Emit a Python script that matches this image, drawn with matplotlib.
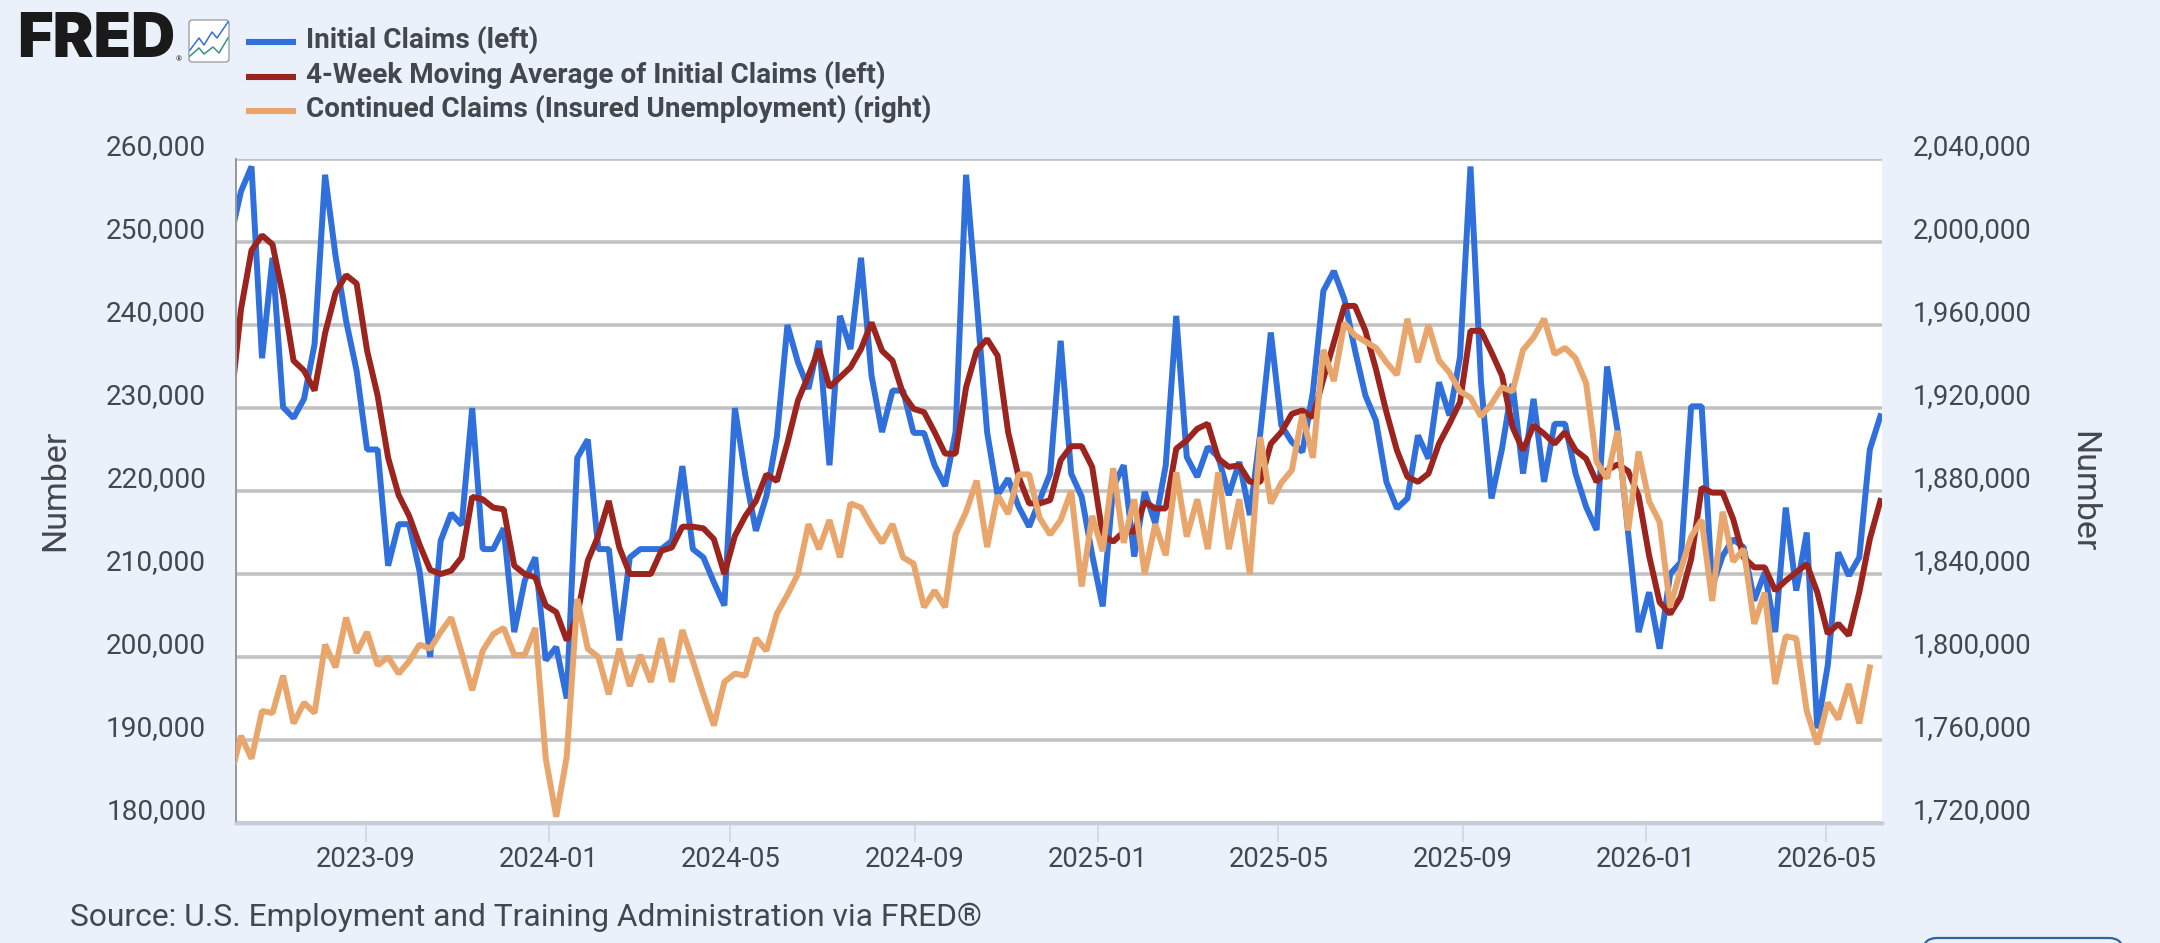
import numpy as np
import pandas as pd
import matplotlib
matplotlib.use('Agg')
import matplotlib.pyplot as plt
import matplotlib.dates as mdates
import matplotlib.ticker as mtick
from matplotlib.patches import FancyBboxPatch
from matplotlib.transforms import ScaledTranslation

# Weekly series, in thousands
initial_claims = [
    250.5, 256.1, 259.1, 236.0, 248.1, 230.1, 228.8, 231.1, 237.7, 258.1, 248.3, 240.5, 234.5, 225.0, 225.0, 211.0,
    216.0, 216.0, 210.3, 200.0, 214.0, 217.3, 215.9, 230.0, 213.0, 213.0, 215.5, 203.0, 209.2, 212.0, 199.6, 201.2,
    195.0, 224.0, 226.2, 213.0, 213.0, 202.0, 212.0, 213.0, 213.0, 213.0, 214.0, 223.0, 213.0, 212.0, 209.0, 206.2,
    230.0, 221.8, 215.2, 219.4, 226.6, 240.0, 235.5, 232.3, 238.1, 223.1, 241.1, 237.1, 248.1, 233.9, 227.1, 232.1,
    232.1, 227.0, 227.0, 223.1, 220.6, 227.1, 258.1, 243.0, 227.1, 219.5, 221.5, 218.1, 215.7, 218.9, 222.1, 238.1,
    222.1, 219.3, 212.3, 206.1, 220.5, 223.1, 212.1, 219.9, 216.1, 223.1, 241.1, 224.1, 221.7, 225.3, 224.1, 219.5,
    223.5, 217.1, 227.0, 239.1, 227.9, 225.9, 224.7, 231.9, 244.1, 246.5, 243.1, 237.0, 231.5, 228.5, 221.1, 217.9,
    219.1, 226.7, 223.9, 233.1, 229.1, 236.1, 259.1, 233.1, 219.1, 225.1, 232.9, 222.1, 231.1, 221.1, 228.1, 228.1,
    222.1, 218.1, 215.3, 235.0, 227.3, 215.0, 203.0, 207.8, 201.0, 210.0, 211.4, 230.2, 230.2, 208.5, 212.2, 214.2,
    213.2, 206.8, 210.2, 203.0, 218.0, 208.0, 215.0, 191.4, 199.0, 212.6, 209.8, 212.0, 225.0, 229.0,
]
moving_average = [
    230.0, 241.9, 249.0, 250.8, 249.7, 243.5, 235.7, 234.5, 232.1, 239.0, 243.9, 246.0, 245.0, 236.9, 231.5, 224.0,
    219.5, 217.0, 213.5, 210.5, 210.0, 210.4, 212.0, 219.3, 219.0, 218.0, 217.8, 211.0, 210.0, 209.6, 206.2, 205.4,
    202.0, 205.0, 211.6, 214.6, 218.8, 213.2, 210.0, 210.0, 210.0, 212.8, 213.2, 215.7, 215.7, 215.5, 214.2, 210.0,
    214.6, 217.0, 218.8, 222.0, 221.2, 225.8, 230.9, 233.9, 237.1, 232.5, 233.7, 234.9, 237.1, 240.3, 236.9, 235.7,
    231.7, 229.9, 229.5, 227.1, 224.5, 224.5, 232.5, 236.9, 238.3, 236.3, 227.1, 221.7, 218.5, 218.5, 218.9, 223.7,
    225.4, 225.4, 222.9, 214.7, 213.9, 215.1, 215.1, 218.7, 217.9, 217.9, 225.1, 226.1, 227.5, 228.1, 223.9, 222.9,
    223.1, 221.1, 221.1, 225.7, 227.1, 229.3, 229.7, 228.9, 233.5, 237.9, 242.3, 242.3, 239.3, 234.7, 229.5, 224.9,
    221.7, 221.1, 222.1, 225.7, 228.1, 230.7, 239.3, 239.3, 236.7, 233.9, 227.7, 224.9, 227.9, 226.9, 225.7, 227.1,
    224.9, 223.9, 221.1, 222.5, 223.2, 222.4, 219.4, 212.2, 206.6, 205.2, 207.2, 211.8, 220.4, 219.8, 219.8, 216.6,
    212.0, 210.8, 210.8, 208.0, 209.2, 210.2, 211.2, 207.8, 202.8, 204.0, 202.6, 207.8, 214.2, 218.8,
]
continued_claims = [
    1742, 1762, 1751, 1774, 1773, 1791, 1768, 1778, 1773, 1806, 1795, 1819, 1802, 1812, 1796, 1800,
    1792, 1798, 1806, 1804, 1812, 1819, 1802, 1784, 1803, 1811, 1814, 1801, 1801, 1814, 1751, 1723,
    1752, 1828, 1804, 1800, 1782, 1804, 1786, 1801, 1788, 1809, 1788, 1813, 1798, 1782, 1767, 1788,
    1792, 1791, 1809, 1803, 1821, 1830, 1840, 1864, 1852, 1866, 1848, 1874, 1872, 1863, 1855, 1864,
    1848, 1845, 1824, 1832, 1824, 1859, 1870, 1885, 1853, 1878, 1869, 1888, 1888, 1867, 1859, 1866,
    1880, 1834, 1868, 1851, 1891, 1855, 1876, 1840, 1864, 1849, 1889, 1858, 1876, 1852, 1889, 1852,
    1876, 1840, 1906, 1874, 1884, 1890, 1917, 1896, 1948, 1933, 1961, 1955, 1952, 1949, 1942, 1936,
    1963, 1942, 1960, 1943, 1937, 1928, 1925, 1916, 1922, 1930, 1928, 1948, 1954, 1963, 1946, 1949,
    1944, 1932, 1894, 1886, 1909, 1861, 1899, 1875, 1865, 1824, 1842, 1858, 1866, 1827, 1870, 1846,
    1852, 1816, 1831, 1787, 1810, 1809, 1774, 1758, 1778, 1770, 1787, 1768, 1795,
]
left_ticks = [180000, 190000, 200000, 210000, 220000, 230000, 240000, 250000, 260000]
right_ticks = [1720000, 1760000, 1800000, 1840000, 1880000, 1920000, 1960000, 2000000, 2040000]
date_ticks = ['2023-09-01', '2024-01-01', '2024-05-01', '2024-09-01', '2025-01-01',
              '2025-05-01', '2025-09-01', '2026-01-01', '2026-05-01']
legend_labels = ['Initial Claims (left)', '4-Week Moving Average of Initial Claims (left)',
                 'Continued Claims (Insured Unemployment) (right)']

BLUE = '#3070dc'
RED = '#9c241e'
ORANGE = '#e8a66d'
BG = '#ebf1fa'
GRID = '#c2c2c2'
TEXT = '#43474e'
LINE_W = 4.3

plt.rcParams['font.family'] = ['Roboto', 'DejaVu Sans']

weeks = pd.date_range('2023-06-03', periods=len(initial_claims), freq='7D')

W, H = 2160, 943
fig = plt.figure(figsize=(W / 100, H / 100), dpi=100, facecolor=BG)
ax = fig.add_axes([236 / W, 1 - 823 / H, (1882 - 236) / W, (823 - 159) / H])
ax.set_facecolor('white')

ax.plot(weeks, np.array(initial_claims) * 1000, color=BLUE, lw=LINE_W, solid_joinstyle='bevel', zorder=3)
ax.plot(weeks, np.array(moving_average) * 1000, color=RED, lw=LINE_W, solid_joinstyle='bevel', zorder=4)
ax.set_xlim(pd.Timestamp('2023-06-06 16:00'), pd.Timestamp('2026-06-07 03:00'))
ax.set_ylim(180000, 260000)
ax.set_yticks(left_ticks)
ax.yaxis.set_major_formatter(mtick.StrMethodFormatter('{x:,.0f}'))
ax.set_xticks(pd.to_datetime(date_ticks))
ax.xaxis.set_major_formatter(mdates.DateFormatter('%Y-%m'))
ax.grid(True, axis='y', color=GRID, lw=2.6, zorder=1)
ax.set_axisbelow(True)
ax.tick_params(axis='y', length=0, pad=21.5, labelsize=20.2, labelcolor=TEXT)
ax.tick_params(axis='x', length=13.7, width=1.2, color='#ccd6eb', pad=3, labelsize=19.8, labelcolor=TEXT)

# Continued claims run on their own scale on the right
ax2 = ax.twinx()
ax2.plot(weeks[:len(continued_claims)], np.array(continued_claims) * 1000, color=ORANGE, lw=LINE_W,
         solid_joinstyle='bevel', zorder=5)
ax2.set_ylim(1720000, 2040000)
ax2.set_yticks(right_ticks)
ax2.yaxis.set_major_formatter(mtick.StrMethodFormatter('{x:,.0f}'))
ax2.tick_params(axis='y', length=0, pad=22, labelsize=19.8, labelcolor=TEXT)

# Tick labels sit a little above their gridlines
lift = ScaledTranslation(0, 14.5 / 100, fig.dpi_scale_trans)
for label in ax.get_yticklabels() + ax2.get_yticklabels():
    label.set_transform(label.get_transform() + lift)

for axis in (ax, ax2):
    axis.spines['top'].set_visible(False)
    axis.spines['right'].set_visible(False)
    axis.spines['left'].set_color('#999999')
    axis.spines['left'].set_linewidth(1.4)
    axis.spines['bottom'].set_color('#c6ccd8')
    axis.spines['bottom'].set_linewidth(2.4)

# Everything outside the plot is placed in pixel coordinates
overlay = fig.add_axes([0, 0, 1, 1], zorder=10)
overlay.set_xlim(0, W)
overlay.set_ylim(H, 0)
overlay.axis('off')

overlay.text(55, 490, 'Number', rotation=90, ha='center', va='center', fontsize=24.5, color=TEXT)
overlay.text(2083, 492, 'Number', rotation=270, ha='center', va='center', fontsize=24.5, color=TEXT)
overlay.text(70, 917, 'Source: U.S. Employment and Training Administration via FRED®', ha='left',
             va='center', fontsize=22.85, color=TEXT)

for y, color, label in zip([42, 77, 111], [BLUE, RED, ORANGE], legend_labels):
    overlay.plot([246, 296], [y, y], color=color, lw=4.4, solid_capstyle='butt')
    overlay.text(306, y - 2, label, ha='left', va='center', fontsize=20.1, fontweight='bold', color=TEXT)

# FRED wordmark and chart icon
overlay.text(17, 41, 'FRED', ha='left', va='center', fontsize=44, fontweight='black', family='Inter', color='#1a1a1a')
overlay.text(179, 59, '®', ha='center', va='center', fontsize=5.5, color='#1a1a1a')
overlay.add_patch(FancyBboxPatch((190, 21), 38, 40, boxstyle='round,pad=1,rounding_size=3', fc='white',
                                 ec='#8a8a8a', lw=0.8))
overlay.plot([190, 199, 204, 212, 217, 228], [50, 38, 45, 32, 38, 22], color=BLUE, lw=1.1)
overlay.plot([190, 199, 204, 213, 219, 228], [56, 48, 54, 47, 53, 38], color='#3f8f7f', lw=1.1)

# Rounded button cut off by the bottom edge
overlay.add_patch(FancyBboxPatch((1923, 938), 200, 40, boxstyle='round,pad=0,rounding_size=14', fc=BG,
                                 ec='#2e64a0', lw=1.6, clip_on=True))

fig.savefig('out.png', dpi=100, facecolor=BG)
